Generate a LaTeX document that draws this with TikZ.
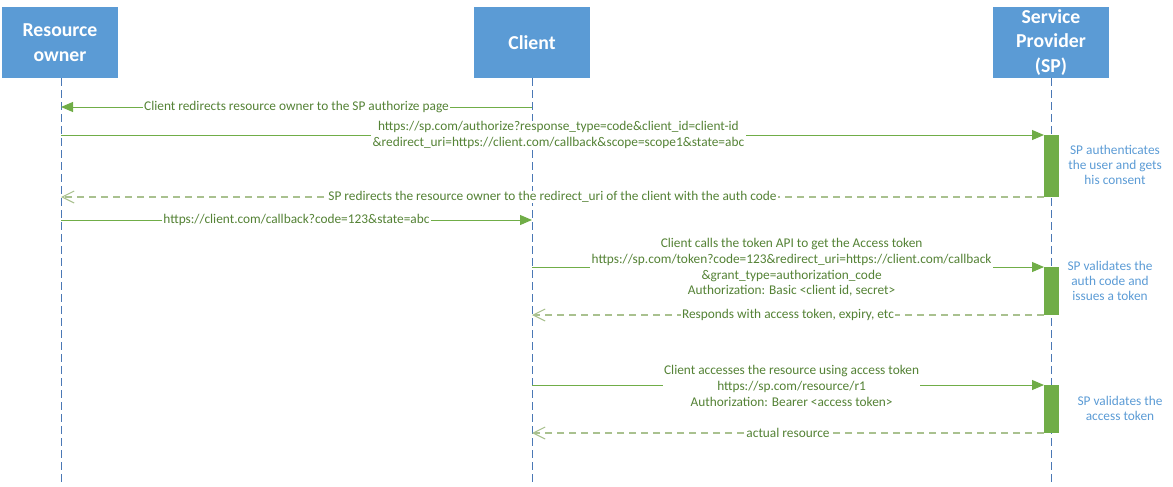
\documentclass[tikz,border=0pt]{standalone}
\usepackage{fontspec}
\setmainfont{Carlito}
\usetikzlibrary{arrows.meta}
\definecolor{boxblue}{HTML}{5B9BD5}
\definecolor{lifeblue}{HTML}{4A78B5}
\definecolor{msggreen}{HTML}{70AD47}
\definecolor{txtgreen}{HTML}{548235}
\definecolor{retgreen}{HTML}{A9C18F}
\definecolor{noteblue}{HTML}{5B9BD5}
\begin{document}
\begin{tikzpicture}[x=0.75pt,y=-0.75pt,
  actor/.style={fill=boxblue, text=white, font=\fontsize{14.8}{18.4}\selectfont\bfseries,
    minimum width=87pt, minimum height=53.25pt, align=center, inner sep=0pt},
  lifeline/.style={draw=lifeblue, line width=0.6pt, dash pattern=on 5.5pt off 3.5pt},
  call/.style={draw=msggreen, line width=0.75pt, -{Triangle[length=9pt,width=7.5pt]}},
  reply/.style={draw=retgreen, line width=0.9pt, dash pattern=on 5.5pt off 3.5pt,
    -{Straight Barb[length=9pt,width=9pt,line width=0.8pt]}},
  lbl/.style={fill=white, text=txtgreen, font=\fontsize{10}{11.8}\selectfont,
    inner xsep=1pt, inner ysep=0pt, align=center},
  actbar/.style={fill=msggreen, minimum width=11.25pt, inner sep=0pt, outer sep=0pt},
  note/.style={text=noteblue, font=\fontsize{10}{11.3}\selectfont, align=center, inner sep=0pt}
]
\useasboundingbox (0,0) rectangle (1173,486);

% actors
\node[actor] (ro) at (60,42.5) {Resource\\owner};
\node[actor] (cl) at (532,42.5) {Client};
\node[actor] (sp) at (1051,42.5) {Service\\Provider\\(SP)};

% lifeline ends
\coordinate (roend) at (61,486);
\coordinate (clend) at (532,486);
\coordinate (spend) at (1051,486);
\draw[lifeline] (ro.south -| roend) -- (roend);
\draw[lifeline] (cl.south) -- (clend);
\draw[lifeline] (sp.south) -- (spend);

% activation bars
\node[actbar, minimum height=46.5pt] (a1) at (1051.5,166) {};
\node[actbar, minimum height=36pt] (a2) at (1051.5,291) {};
\node[actbar, minimum height=36pt] (a3) at (1051.5,409) {};

% message end points
\coordinate (m1s) at (532,107);  \coordinate (m1e) at (61,107);
\coordinate (m2s) at (61,135);
\coordinate (m4e) at (61,197);
\coordinate (m5s) at (61,220);   \coordinate (m5e) at (532,220);
\coordinate (m6s) at (532,267);
\coordinate (m7e) at (532,315);
\coordinate (m8s) at (532,385);
\coordinate (m9e) at (532,433);

\draw[call] (m1s) -- node[lbl] {Client redirects resource owner to the SP authorize page} (m1e);
\draw[call] (m2s) -- node[lbl, pos=0.506] {https://sp.com/authorize?response\_type=code\&client\_id=client-id\\\&redirect\_uri=https://client.com/callback\&scope=scope1\&state=abc} (m2s -| a1.west);
\draw[reply] (m4e -| a1.west) -- node[lbl] {SP redirects the resource owner to the redirect\_uri of the client with the auth code} (m4e);
\draw[call] (m5s) -- node[lbl] {https://client.com/callback?code=123\&state=abc} (m5e);
\draw[call] (m6s) -- node[lbl, pos=0.507, yshift=-0.4pt] {Client calls the token API to get the Access token\\https://sp.com/token?code=123\&redirect\_uri=https://client.com/callback\\\&grant\_type=authorization\_code\\Authorization: Basic <client id, secret>} (m6s -| a2.west);
\draw[reply] (m7e -| a2.west) -- node[lbl] {Responds with access token, expiry, etc} (m7e);
\draw[call] (m8s) -- node[lbl, pos=0.507, yshift=-0.6pt] {Client accesses the resource using access token\\https://sp.com/resource/r1\\Authorization: Bearer <access token>} (m8s -| a3.west);
\draw[reply] (m9e -| a3.west) -- node[lbl] {actual resource} (m9e);

% redraw bars on top
\node[actbar, minimum height=46.5pt] at (a1) {};
\node[actbar, minimum height=36pt] at (a2) {};
\node[actbar, minimum height=36pt] at (a3) {};

% notes
\node[note] (n1) at (1115,165) {SP authenticates\\the user and gets\\his consent};
\node[note] (n2) at (1110,281) {SP validates the\\auth code and\\issues a token};
\node[note] (n3) at (1120,408) {SP validates the\\access token};
\end{tikzpicture}
\end{document}
